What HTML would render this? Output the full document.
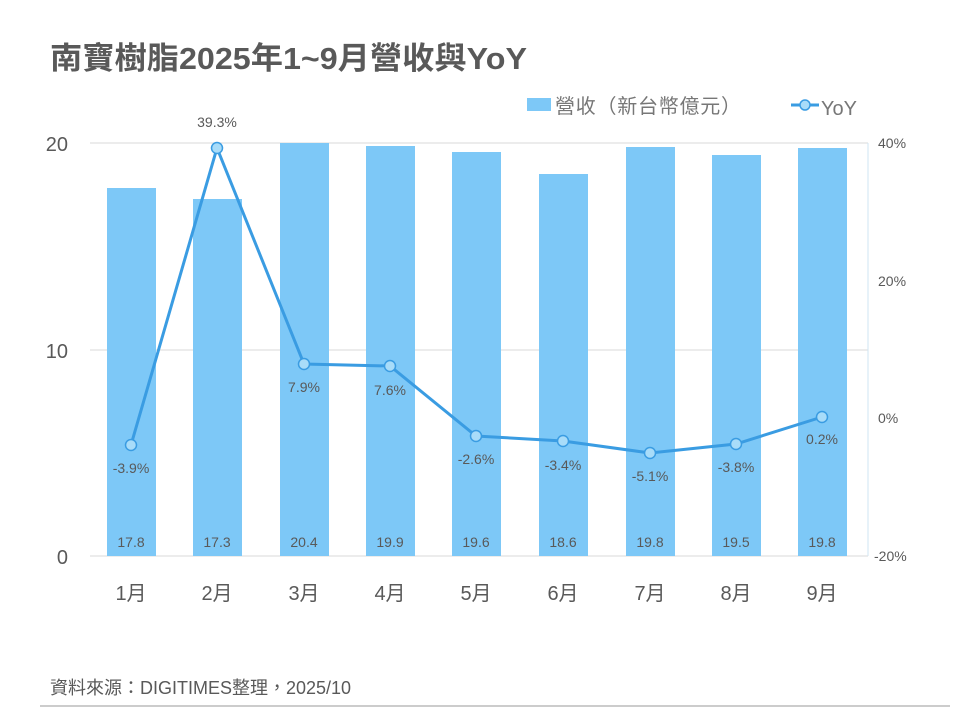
<!DOCTYPE html>
<html><head><meta charset="utf-8"><style>body{margin:0;background:#fff}</style></head><body>
<svg width="960" height="720" xmlns="http://www.w3.org/2000/svg" font-family="Liberation Sans, Noto Sans CJK TC, sans-serif">
<rect width="960" height="720" fill="#fff"/>
<text x="50" y="69" font-size="31" font-weight="bold" fill="#595959" textLength="477" lengthAdjust="spacingAndGlyphs">南寶樹脂2025年1~9月營收與YoY</text>
<rect x="527" y="98" width="24" height="13" fill="#7dc8f7"/>
<text x="555" y="113" font-size="20" fill="#777" textLength="186" lengthAdjust="spacing">營收（新台幣億元）</text>
<line x1="791" y1="105" x2="819" y2="105" stroke="#3a9ce2" stroke-width="3"/>
<circle cx="805" cy="105" r="5" fill="#a8dcf9" stroke="#3a9ce2" stroke-width="1.5"/>
<text x="821" y="115" font-size="20" fill="#777">YoY</text>
<line x1="90" y1="143" x2="868" y2="143" stroke="#d9d9d9"/>
<line x1="90" y1="350" x2="868" y2="350" stroke="#d9d9d9"/>
<line x1="90" y1="556" x2="868" y2="556" stroke="#d9d9d9"/>
<line x1="868" y1="143" x2="868" y2="556" stroke="#cfe6f3"/>
<g font-size="20" fill="#595959" text-anchor="end">
<text x="68" y="151">20</text><text x="68" y="358">10</text><text x="68" y="564">0</text></g>
<g font-size="14" fill="#595959">
<text x="878" y="148">40%</text><text x="878" y="286">20%</text><text x="878" y="423">0%</text><text x="874" y="561">-20%</text></g>
<g fill="#7dc8f7">
<rect x="107" y="188" width="49" height="368"/>
<rect x="193" y="199" width="49" height="357"/>
<rect x="280" y="143" width="49" height="413"/>
<rect x="366" y="146" width="49" height="410"/>
<rect x="452" y="152" width="49" height="404"/>
<rect x="539" y="174" width="49" height="382"/>
<rect x="626" y="147" width="49" height="409"/>
<rect x="712" y="155" width="49" height="401"/>
<rect x="798" y="148" width="49" height="408"/></g>
<g font-size="14" fill="#595959" text-anchor="middle">
<text x="131" y="547">17.8</text><text x="217" y="547">17.3</text><text x="304" y="547">20.4</text><text x="390" y="547">19.9</text><text x="476" y="547">19.6</text><text x="563" y="547">18.6</text><text x="650" y="547">19.8</text><text x="736" y="547">19.5</text><text x="822" y="547">19.8</text></g>
<polyline points="131,445 217,148 304,364 390,366 476,436 563,441 650,453 736,444 822,417" fill="none" stroke="#3a9ce2" stroke-width="3"/>
<g fill="#a8dcf9" stroke="#3a9ce2" stroke-width="1.5">
<circle cx="131" cy="445" r="5.5"/><circle cx="217" cy="148" r="5.5"/><circle cx="304" cy="364" r="5.5"/><circle cx="390" cy="366" r="5.5"/><circle cx="476" cy="436" r="5.5"/><circle cx="563" cy="441" r="5.5"/><circle cx="650" cy="453" r="5.5"/><circle cx="736" cy="444" r="5.5"/><circle cx="822" cy="417" r="5.5"/></g>
<g font-size="14" fill="#595959" text-anchor="middle">
<text x="131" y="473">-3.9%</text><text x="217" y="127">39.3%</text><text x="304" y="392">7.9%</text><text x="390" y="395">7.6%</text><text x="476" y="464">-2.6%</text><text x="563" y="470">-3.4%</text><text x="650" y="481">-5.1%</text><text x="736" y="472">-3.8%</text><text x="822" y="444">0.2%</text></g>
<g font-size="20" fill="#595959" text-anchor="middle">
<text x="131" y="600">1月</text><text x="217" y="600">2月</text><text x="304" y="600">3月</text><text x="390" y="600">4月</text><text x="476" y="600">5月</text><text x="563" y="600">6月</text><text x="650" y="600">7月</text><text x="736" y="600">8月</text><text x="822" y="600">9月</text></g>
<text x="50" y="694" font-size="18" fill="#595959">資料來源：DIGITIMES整理，2025/10</text>
<line x1="40" y1="706" x2="950" y2="706" stroke="#999"/>
</svg>
</body></html>
